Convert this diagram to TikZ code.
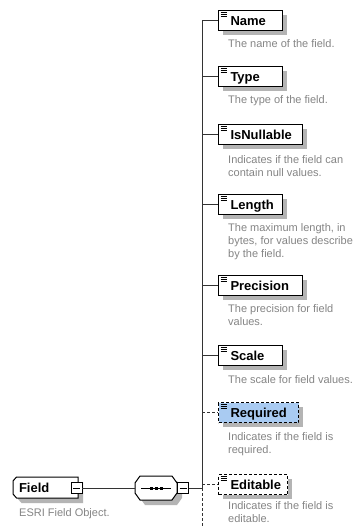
\documentclass[tikz,border=0pt]{standalone}
\usepackage{fontspec}
\setmainfont{Liberation Sans}
\definecolor{wire}{HTML}{333333}
\definecolor{shadowgray}{HTML}{B4B4B4}
\definecolor{notegray}{HTML}{858585}
\definecolor{optblue}{HTML}{A9CBF2}
\tikzset{
  elem/.style={draw=black, fill=white, line width=1pt, anchor=north west,
    minimum height=20pt, inner sep=0pt, text width=#1, align=left,
    text height=10pt, text depth=0pt,
    font=\fontsize{13}{15}\selectfont\bfseries},
  optelem/.style={elem=#1, dash pattern=on 3pt off 2pt},
  note/.style={anchor=north west, inner sep=0pt, align=left, text=notegray,
    font=\fontsize{11}{13}\selectfont},
  outline/.style={draw=black, fill=white, line width=1pt},
  shadowfill/.style={fill=shadowgray},
  wire/.style={draw=wire, line width=1pt},
  optwire/.style={wire, dash pattern=on 3pt off 2pt},
  toggle/.style={draw=black, fill=white, line width=0.8pt, minimum size=11pt, inner sep=0pt,
    path picture={\draw[line width=0.8pt]
      ([xshift=2pt]path picture bounding box.west) --
      ([xshift=-2pt]path picture bounding box.east);}},
}
\begin{document}
\begin{tikzpicture}[x=1pt,y=-1pt]
  \fill[white] (0,0) rectangle (354,527);
  \useasboundingbox (0,0) rectangle (354,527);

  % drop shadows of the element boxes (left, top, width)
  \foreach \x/\y/\w in {218/10/64,218/66/64,218/124/84,218/194/64,
                        218/275/84,218/345/64,218/402/80,218/474/69}
    \fill[shadowfill] (\x+5,\y+5) rectangle (\x+\w+5,\y+25);

  % root element outline (chamfered on the left) and its shadow
  \path[shadowfill] (21.5,482) -- (83,482) -- (83,503) -- (21.5,503) -- (18,499) -- (18,486) -- cycle;
  \path[outline] (16.5,477) -- (78,477) -- (78,498) -- (16.5,498) -- (13,494) -- (13,481) -- cycle;

  % sequence compositor outline (chamfered on all corners) and its shadow
  \path[shadowfill] (145,481) -- (177,481) -- (182,488) -- (182,498) -- (177,505)
    -- (145,505) -- (140,498) -- (140,488) -- cycle;
  \path[outline] (140,476) -- (172,476) -- (177,483) -- (177,493) -- (172,500)
    -- (140,500) -- (135,493) -- (135,483) -- cycle;

  % child elements of the sequence
  \node[elem=64pt] (name)      at (218,10)  {\hspace*{12pt}Name};
  \node[elem=64pt] (type)      at (218,66)  {\hspace*{12pt}Type};
  \node[elem=84pt] (nullable)  at (218,124) {\hspace*{12pt}IsNullable};
  \node[elem=64pt] (length)    at (218,194) {\hspace*{12pt}Length};
  \node[elem=84pt] (precision) at (218,275) {\hspace*{12pt}Precision};
  \node[elem=64pt] (scale)     at (218,345) {\hspace*{12pt}Scale};
  \node[optelem=80pt, fill=optblue] (required) at (218,402) {\hspace*{12pt}Required};
  \node[optelem=69pt] (editable) at (218,474) {\hspace*{12pt}Editable};

  % element icons
  \foreach \n in {name,type,nullable,length,precision,scale,required,editable}
    \foreach \d in {2.5,4.5,6.5}
      \draw[line width=0.9pt] ([xshift=2.5pt,yshift=-\d pt]\n.north west) -- ++(6pt,0pt);

  % annotations
  \node[note] (nameN)      at (228,39)  {The name of the field.};
  \node[note] (typeN)      at (228,95)  {The type of the field.};
  \node[note] (nullableN)  at (228,155) {Indicates if the field can\\contain null values.};
  \node[note] (lengthN)    at (228,223) {The maximum length, in\\bytes, for values describe\\by the field.};
  \node[note] (precisionN) at (228,304) {The precision for field\\values.};
  \node[note] (scaleN)     at (228,375) {The scale for field values.};
  \node[note] (requiredN)  at (228,432) {Indicates if the field is\\required.};
  \node[note] (editableN)  at (228,501) {Indicates if the field is\\editable.};

  % root element
  \node[minimum width=65pt, minimum height=21pt, inner sep=0pt,
        text width=65pt, align=left, text height=10pt, text depth=0pt,
        font=\fontsize{13}{15}\selectfont\bfseries] (field) at (45.5,487.5) {\hspace*{6pt}Field};
  \node[note] (fieldN) at (19,508) {ESRI Field Object.};
  \node[toggle] (fieldtog) at (76.5,488) {};

  % sequence compositor
  \node[minimum width=42pt, minimum height=24pt, inner sep=0pt] (seq) at (156,488) {};
  \draw[line width=1pt] ([xshift=6pt]seq.west) -- ([xshift=-6pt]seq.east);
  \foreach \dx in {-5,0,5}
    \fill ([xshift=\dx pt]seq.center) ++(-1.5pt,-1.5pt) rectangle ++(3pt,3pt);
  \node[toggle, anchor=west] (seqtog) at (seq.east) {};

  % connectors
  \coordinate (busjoin) at (202,488);
  \coordinate (busend)  at (202,527);
  \draw[wire] (fieldtog.east) -- (seq.west);
  \draw[wire] (seqtog.east) -- (busjoin) |- (name.west);
  \foreach \n in {type,nullable,length,precision,scale}
    \draw[wire] (\n.west -| busjoin) -- (\n.west);
  \draw[optwire] (required.west -| busjoin) -- (required.west);
  \draw[optwire] (editable.west -| busjoin) -- (editable.west);
  \draw[optwire] (busjoin) -- (busend);
\end{tikzpicture}
\end{document}
